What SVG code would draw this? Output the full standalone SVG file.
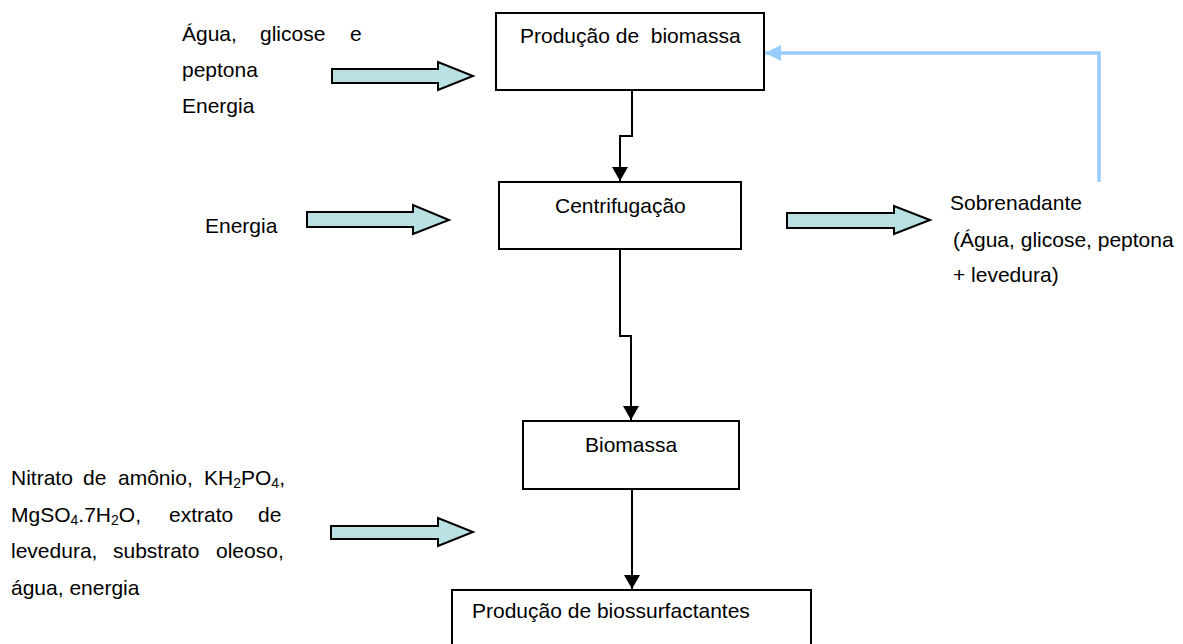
<svg xmlns="http://www.w3.org/2000/svg" width="1183" height="644" viewBox="0 0 1183 644">
<style>
text{font-family:"Liberation Sans",Arial,sans-serif;font-size:21px;fill:#000}
.box{fill:#fff;stroke:#000;stroke-width:2}
.con{fill:none;stroke:#000;stroke-width:2}
.blk{fill:#b9e0e2;stroke:#000;stroke-width:2;stroke-linejoin:miter}
.fb{fill:none;stroke:#99ccff;stroke-width:3.5}
.sub{font-size:14px}
</style>
<defs>
<marker id="ah" viewBox="0 0 14 16" refX="14" refY="8" markerWidth="14" markerHeight="16" markerUnits="userSpaceOnUse" orient="auto"><path d="M0,0L14,8L0,16Z" fill="#000"/></marker>
<marker id="ahb" viewBox="0 0 16 16" refX="16" refY="8" markerWidth="16" markerHeight="16" markerUnits="userSpaceOnUse" orient="auto"><path d="M0,0L16,8L0,16Z" fill="#99ccff"/></marker>
</defs>
<rect width="1183" height="644" fill="#fff"/>

<g id="connectors">
<path class="con" d="M632,90V136H620V181" marker-end="url(#ah)"/>
<path class="con" d="M620,249V336H631V420" marker-end="url(#ah)"/>
<path class="con" d="M632,489V589" marker-end="url(#ah)"/>
<path class="fb" d="M1099,182V53H765" marker-end="url(#ahb)"/>
<path class="blk" d="M332,69H438V62L473,76L438,90V83H332Z"/>
<path class="blk" d="M307,212H413V205L449,220L413,234V227H307Z"/>
<path class="blk" d="M787,213H894V206L930,220L894,234V228H787Z"/>
<path class="blk" d="M331,526H438V518L473,532L438,546V539H331Z"/>
</g>

<g id="producao-biomassa">
<rect class="box" x="496" y="13" width="268" height="77"/>
<text x="520" y="43" xml:space="preserve">Produção de  biomassa</text>
</g>
<g id="centrifugacao">
<rect class="box" x="499" y="182" width="242" height="67"/>
<text x="555" y="213">Centrifugação</text>
</g>
<g id="biomassa">
<rect class="box" x="523" y="421" width="216" height="68"/>
<text x="585" y="452">Biomassa</text>
</g>
<g id="producao-biossurfactantes">
<rect class="box" x="452" y="590" width="359" height="70"/>
<text x="472" y="618">Produção de biossurfactantes</text>
</g>

<g id="entrada1">
<text y="41"><tspan x="182">Água,</tspan><tspan x="260">glicose</tspan><tspan x="350">e</tspan></text>
<text x="182" y="77">peptona</text>
<text x="182" y="113">Energia</text>
</g>
<g id="entrada2">
<text x="205" y="233">Energia</text>
</g>
<g id="sobrenadante">
<text x="950" y="210">Sobrenadante</text>
<text x="953" y="247">(Água, glicose, peptona</text>
<text x="953" y="282">+ levedura)</text>
</g>
<g id="entrada3">
<text y="485"><tspan x="11">Nitrato</tspan><tspan x="83">de</tspan><tspan x="118">amônio,</tspan><tspan x="204">KH</tspan><tspan class="sub" dy="3">2</tspan><tspan dy="-3">PO</tspan><tspan class="sub" dy="3">4</tspan><tspan dy="-3">,</tspan></text>
<text y="522"><tspan x="11">MgSO</tspan><tspan class="sub" dy="3">4</tspan><tspan dy="-3">.7H</tspan><tspan class="sub" dy="3">2</tspan><tspan dy="-3">O,</tspan><tspan x="169">extrato</tspan><tspan x="258">de</tspan></text>
<text y="558"><tspan x="11">levedura,</tspan><tspan x="113">substrato</tspan><tspan x="216">oleoso,</tspan></text>
<text x="11" y="595">água, energia</text>
</g>
</svg>
